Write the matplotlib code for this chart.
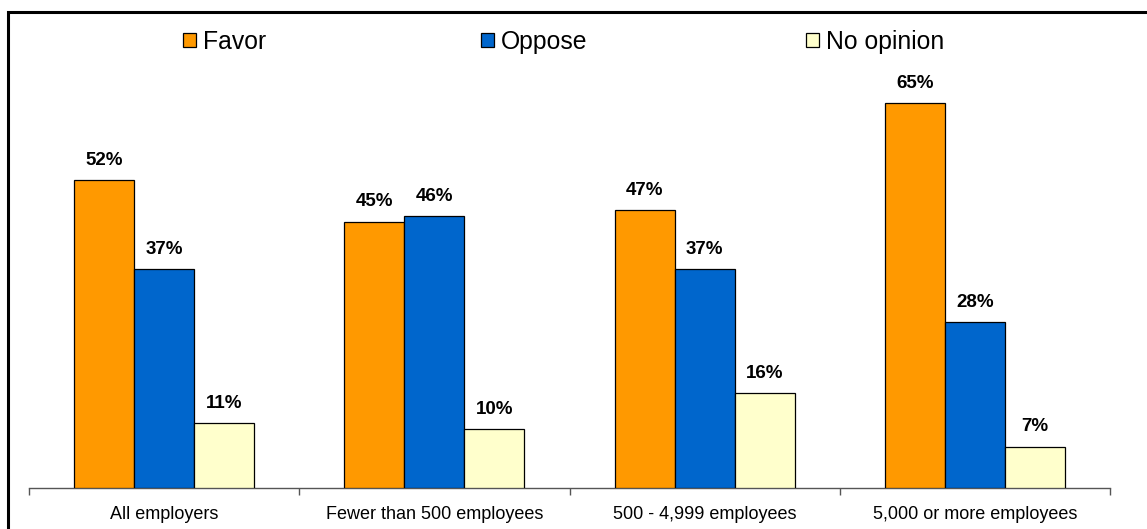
import numpy as np
import matplotlib.pyplot as plt
from matplotlib.patches import Rectangle

plt.rcParams['font.family'] = ['Liberation Sans', 'DejaVu Sans']

categories = ['All employers', 'Fewer than 500 employees',
              '500 - 4,999 employees', '5,000 or more employees']
series = ['Favor', 'Oppose', 'No opinion']
favor = [52, 45, 47, 65]
oppose = [37, 46, 37, 28]
no_opinion = [11, 10, 16, 7]
colors = ['#FF9900', '#0066CC', '#FFFFCC']

W, H = 1147, 529
fig = plt.figure(figsize=(W / 100, H / 100), dpi=100)

# plot area in pixels: x 29..1110, baseline at y=488
ax = fig.add_axes([29 / W, (H - 488) / H, 1081 / W, (488 - 73.6) / H])

x = np.arange(len(categories))
bw = 0.222
for i, (vals, c) in enumerate(zip([favor, oppose, no_opinion], colors)):
    pos = x + (i - 1) * bw
    ax.bar(pos, vals, width=bw, color=c, edgecolor='black', linewidth=0.9, zorder=3)
    for px, v in zip(pos, vals):
        ax.annotate(f'{v}%', (px, v), xytext=(0, 8), textcoords='offset points',
                    ha='center', va='bottom', fontsize=13.5, fontweight='bold')

ax.set_xlim(-0.5, len(categories) - 0.5)
ax.set_ylim(0, 70)
ax.set_yticks([])
for s in ['top', 'right', 'left']:
    ax.spines[s].set_visible(False)
ax.spines['bottom'].set_color('#555555')
ax.spines['bottom'].set_linewidth(1.0)

ax.set_xticks(x)
ax.set_xticklabels(categories, fontsize=13)
ax.tick_params(axis='x', which='major', length=0, pad=13)
ax.set_xticks(np.arange(-0.5, len(categories)), minor=True)
ax.tick_params(axis='x', which='minor', length=5, width=1, color='#555555')

# legend row across the top
leg_x = [183, 481, 806]
leg_y = 40
sq = 13
for lx, name, c in zip(leg_x, series, colors):
    fig.add_artist(Rectangle((lx / W, (H - leg_y - sq / 2) / H), sq / W, sq / H,
                             facecolor=c, edgecolor='black', linewidth=0.9,
                             transform=fig.transFigure))
    fig.text((lx + sq + 7) / W, (H - leg_y) / H, name, fontsize=17.8,
             ha='left', va='center_baseline')

# outer frame (left and top edges visible)
fig.add_artist(Rectangle((8 / W, -0.2), 1.5, (H - 12) / H + 0.2, fill=False,
                         edgecolor='black', linewidth=2.2,
                         transform=fig.transFigure))

fig.savefig('out.png', dpi=100)
